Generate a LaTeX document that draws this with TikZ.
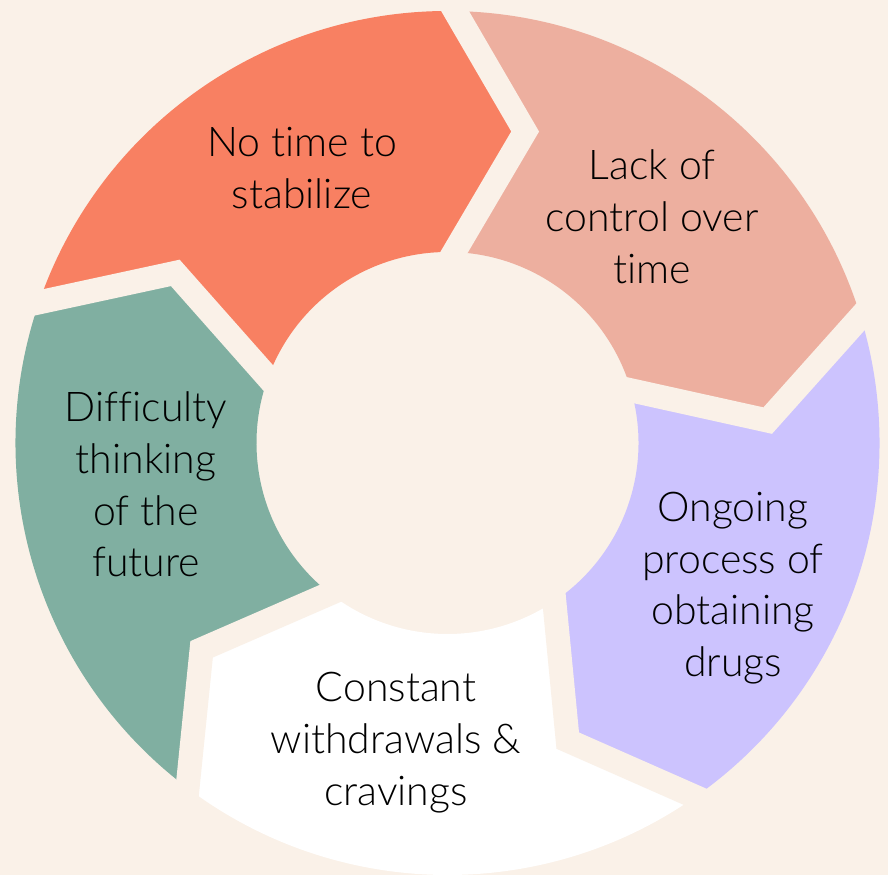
\documentclass[tikz,border=0pt]{standalone}
\usepackage{fontspec}
\setmainfont{Lato Light}[Ligatures={NoCommon}]
\usetikzlibrary{calc}
\definecolor{bgc}{HTML}{FAF1E8}
\definecolor{orangec}{HTML}{F88062}
\definecolor{pinkc}{HTML}{EDAF9F}
\definecolor{purplec}{HTML}{CCC3FE}
\definecolor{whitec}{HTML}{FFFFFF}
\definecolor{greenc}{HTML}{80AFA1}
\tikzset{
  label/.style={inner sep=0pt, align=center, anchor=base, text=black,
    font=\fontsize{41}{51.7}\selectfont},
  gapline/.style={draw=bgc, line width=24pt, line join=miter, line cap=butt}
}
\begin{document}
\begin{tikzpicture}[x=1pt,y=1pt]
\useasboundingbox (0,0) rectangle (888,875);
\fill[bgc] (0,0) rectangle (888,875);
\coordinate (C) at (447.5,432);
% segments
\foreach \s/\col in {0/orangec,1/pinkc,2/purplec,3/whitec,4/greenc}{
  \pgfmathsetmacro\a{161-72*\s}
  \pgfmathsetmacro\b{\a-72}
  \pgfmathsetmacro\bt{\b-13}
  \pgfmathsetmacro\bi{\b-1}
  \pgfmathsetmacro\at{\a-13}
  \pgfmathsetmacro\ai{\a-1}
  \fill[\col] ($(C)+(\a:432)$) arc[start angle=\a, end angle=\b, radius=432]
    -- ($(C)+(\bt:321)$) -- ($(C)+(\bi:191)$)
    arc[start angle=\bi, end angle=\ai, radius=191]
    -- ($(C)+(\at:321)$) -- cycle;
}
% gaps between segments
\foreach \j in {0,...,4}{
  \pgfmathsetmacro\o{89-72*\j}
  \pgfmathsetmacro\t{\o-13}
  \pgfmathsetmacro\i{\o-1}
  \coordinate (go) at ($(C)+(\o:432)$);
  \coordinate (gt) at ($(C)+(\t:321)$);
  \coordinate (gi) at ($(C)+(\i:191)$);
  \draw[gapline] ($(gt)!1.4!(go)$) -- (gt) -- ($(gt)!1.4!(gi)$);
}
% labels (anchor = baseline of the last line)
\node[label] (t1) at (302,666.6) {No time to\\stabilize};
\node[label] (t2) at (652,591.6) {Lack of\\control over\\time};
\node[label] (t3) at (733,198.3) {Ongoing\\process of\\obtaining\\drugs};
\node[label] (t4) at (396,70) {Constant\\withdrawals \&\\cravings};
\node[label] (t5) at (146,298) {Difficulty\\thinking\\of the\\future};
\end{tikzpicture}
\end{document}
